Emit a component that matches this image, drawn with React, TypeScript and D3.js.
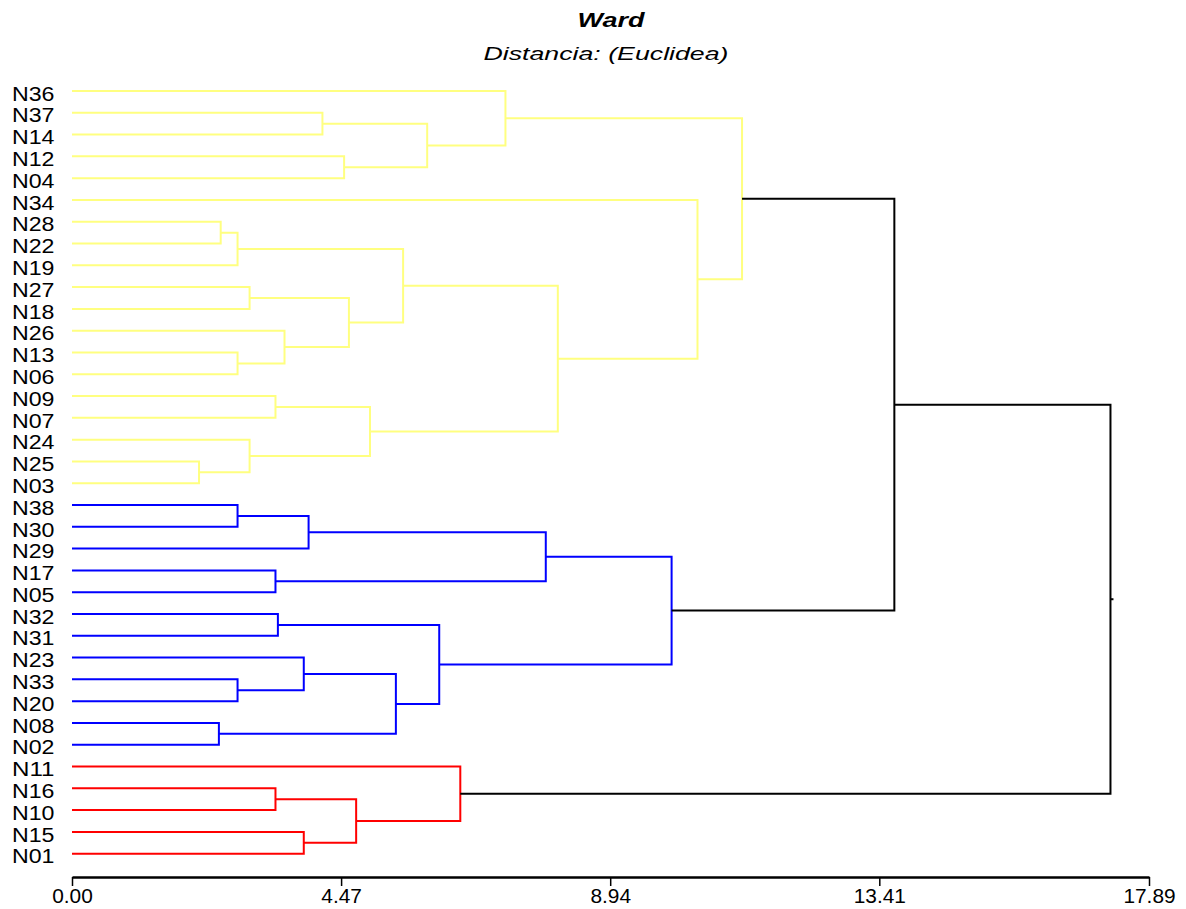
import React from "react";
import * as d3 from "d3";

const leaves = [
  "N36", "N37", "N14", "N12", "N04", "N34", "N28", "N22", "N19", "N27", "N18", "N26",
  "N13", "N06", "N09", "N07", "N24", "N25", "N03", "N38", "N30", "N29", "N17", "N05",
  "N32", "N31", "N23", "N33", "N20", "N08", "N02", "N11", "N16", "N10", "N15", "N01",
];

// merges: children are leaf names or "m<index>" of an earlier merge
const mergeLeft = [
  "N37", "N12", "m0", "N36", "N28", "m4", "N27", "N13", "N26", "m6", "m5", "N09", "N25", "N24", "m11", "m10", "N34", "m3",
  "N38", "m18", "N17", "m19", "N32", "N33", "N23", "N08", "m24", "m22", "m21",
  "N16", "N15", "m29", "N11",
  "m17", "m33",
];
const mergeRight = [
  "N14", "N04", "m1", "m2", "N22", "N19", "N18", "N06", "m7", "m8", "m9", "N07", "N03", "m12", "m13", "m14", "m15", "m16",
  "N30", "N29", "N05", "m20", "N31", "N20", "m23", "N02", "m25", "m26", "m27",
  "N10", "N01", "m30", "m31",
  "m28", "m32",
];
const mergeHeight = [
  4.16, 4.52, 5.9, 7.2, 2.47, 2.75, 2.95, 2.75, 3.53, 4.6, 5.5, 3.38, 2.11, 2.95, 4.95, 8.07, 10.39, 11.13,
  2.75, 3.93, 3.38, 7.87, 3.42, 2.75, 3.85, 2.44, 5.38, 6.1, 9.96,
  3.38, 3.85, 4.72, 6.45,
  13.66, 17.25,
];
const mergeGroup = [
  "Y", "Y", "Y", "Y", "Y", "Y", "Y", "Y", "Y", "Y", "Y", "Y", "Y", "Y", "Y", "Y", "Y", "Y",
  "B", "B", "B", "B", "B", "B", "B", "B", "B", "B", "B",
  "R", "R", "R", "R",
  "K", "K",
];
const groupColors: Record<string, string> = { Y: "#ffff80", B: "#0000ff", R: "#ff0000", K: "#000000" };

const tickValues = [0, 4.47, 8.94, 13.41, 17.89];
const axisMax = 17.89;

export default function App() {
  const width = 1186;
  const height = 909;
  const x = d3.scaleLinear().domain([0, axisMax]).range([72, 1149]);
  const y = d3.scalePoint<string>().domain(leaves).range([91, 853.7]).padding(0);

  const pos = (ref: string): { h: number; y: number } => {
    if (ref.startsWith("m")) {
      const i = +ref.slice(1);
      const a = pos(mergeLeft[i]);
      const b = pos(mergeRight[i]);
      return { h: mergeHeight[i], y: (a.y + b.y) / 2 };
    }
    return { h: 0, y: y(ref) as number };
  };

  const links = mergeHeight.map((h, i) => {
    const a = pos(mergeLeft[i]);
    const b = pos(mergeRight[i]);
    const xm = x(h);
    const p = d3.path();
    p.moveTo(x(a.h), a.y);
    p.lineTo(xm, a.y);
    p.lineTo(xm, b.y);
    p.lineTo(x(b.h), b.y);
    return { d: p.toString(), color: groupColors[mergeGroup[i]] };
  });

  const rootIdx = mergeHeight.length - 1;
  const root = pos("m" + rootIdx);

  const fmt = d3.format(".2f");
  const axisRef = React.useRef<SVGGElement>(null);
  React.useEffect(() => {
    if (!axisRef.current) return;
    const g = d3.select(axisRef.current);
    g.selectAll("*").remove();
    g.call(d3.axisBottom(x).tickValues(tickValues).tickFormat(fmt).tickSize(9).tickSizeOuter(0));
    g.select(".domain").attr("stroke", "#000").attr("stroke-width", 2.5);
    g.selectAll(".tick line").attr("stroke", "#000").attr("stroke-width", 1.5);
    g.selectAll<SVGTextElement, number>(".tick text")
      .attr("fill", "#000")
      .attr("font-family", "'Liberation Sans', Arial, sans-serif")
      .attr("font-size", 19.5)
      .attr("dy", 0)
      .attr("y", 26)
      .attr("lengthAdjust", "spacingAndGlyphs")
      .attr("textLength", (d) => {
        const s = fmt(d);
        let em = 0;
        for (const c of s) em += c === "." ? 0.278 : 0.556;
        return em * 19.5 * 1.07;
      });
  }, []);

  return (
    <svg width={width} height={height} style={{ display: "block", position: "absolute", left: 0, top: 0 }}>
      <rect width={width} height={height} fill="#fff" />
      <text x={611} y={27} textAnchor="middle" fontFamily="'Liberation Sans', Arial, sans-serif"
        fontWeight="bold" fontStyle="italic" fontSize={20} textLength={67} lengthAdjust="spacingAndGlyphs">Ward</text>
      <text x={606} y={60} textAnchor="middle" fontFamily="'Liberation Sans', Arial, sans-serif"
        fontStyle="italic" fontSize={19} textLength={245} lengthAdjust="spacingAndGlyphs">Distancia: (Euclidea)</text>
      {leaves.map((l) => (
        <text key={l} x={12} y={(y(l) as number) + 9.7} fontFamily="'Liberation Sans', Arial, sans-serif"
          fontSize={20} textLength={42.5} lengthAdjust="spacingAndGlyphs" fill="#000">{l}</text>
      ))}
      {links.map((lk, i) => (
        <path key={i} d={lk.d} fill="none" stroke={lk.color} strokeWidth={2} />
      ))}
      <line x1={x(mergeHeight[rootIdx])} x2={x(mergeHeight[rootIdx]) + 3} y1={root.y} y2={root.y} stroke="#000" strokeWidth={2} />
      <g ref={axisRef} transform="translate(0,877)" />
    </svg>
  );
}
